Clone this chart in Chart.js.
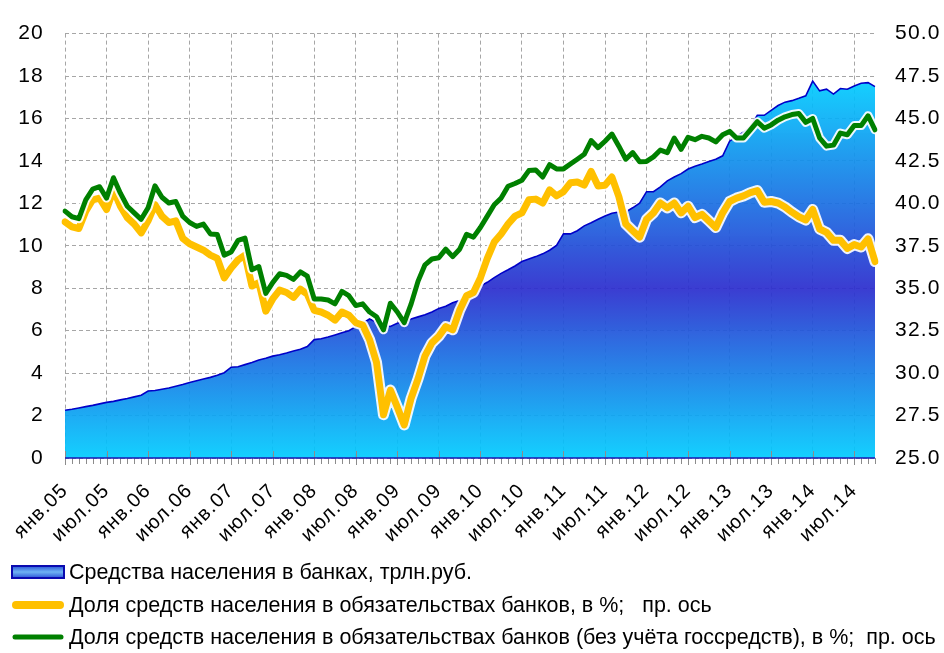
<!DOCTYPE html>
<html lang="ru">
<head>
<meta charset="utf-8">
<script src="https://cdn.jsdelivr.net/npm/chart.js@4.4.1/dist/chart.umd.min.js"></script>
<style>
  html, body { margin: 0; padding: 0; background: #fff; }
  #wrap { width: 944px; height: 653px; position: relative; }
</style>
</head>
<body>
<div id="wrap"><canvas id="c" width="944" height="653"></canvas></div>
<script>
// ---------- DATA ----------
const monthNames = ['янв','фев','мар','апр','май','июн','июл','авг','сен','окт','ноя','дек'];
const startYear = 2005;

// Средства населения в банках, трлн.руб. (left axis), Jan 2005 .. Oct 2014
const deposits = [
  2.25, 2.30, 2.36, 2.42, 2.48, 2.55, 2.62, 2.67, 2.74, 2.80, 2.88, 2.96,
  3.16, 3.18, 3.24, 3.30, 3.38, 3.46, 3.56, 3.64, 3.72, 3.80, 3.90, 4.02,
  4.28, 4.30, 4.40, 4.50, 4.62, 4.70, 4.80, 4.87, 4.95, 5.04, 5.12, 5.25,
  5.58, 5.62, 5.70, 5.80, 5.90, 6.00, 6.19, 6.35, 6.55, 6.40, 6.25, 6.20,
  6.35, 6.42, 6.55, 6.65, 6.75, 6.88, 7.05, 7.15, 7.32, 7.42, 7.52, 7.72,
  8.10, 8.28, 8.50, 8.70, 8.87, 9.05, 9.26, 9.38, 9.49, 9.62, 9.79, 10.02,
  10.56, 10.56, 10.71, 10.94, 11.09, 11.25, 11.40, 11.53, 11.59, 11.60, 11.79, 12.01,
  12.55, 12.55, 12.78, 13.06, 13.24, 13.40, 13.62, 13.75, 13.85, 13.97, 14.08, 14.24,
  14.93, 15.16, 15.35, 15.62, 16.15, 16.15, 16.38, 16.61, 16.77, 16.84, 16.95, 17.07,
  17.76, 17.30, 17.38, 17.15, 17.41, 17.38, 17.53, 17.66, 17.69, 17.50
];

// Доля средств населения в обязательствах банков, % (right axis)
const shareTotal = [
  38.91, 38.62, 38.52, 39.54, 40.21, 40.31, 39.64, 40.79, 39.83, 39.16, 38.78, 38.26,
  38.97, 39.92, 39.25, 38.87, 38.97, 37.95, 37.62, 37.43, 37.24, 36.95, 36.76, 35.61,
  36.19, 36.67, 36.95, 35.13, 35.33, 33.65, 34.37, 34.89, 34.75, 34.46, 34.94, 34.66,
  33.70, 33.60, 33.41, 33.12, 33.60, 33.41, 32.97, 32.83, 31.97, 30.63, 27.55, 29.00,
  28.00, 26.95, 28.52, 29.67, 31.02, 31.78, 32.17, 32.74, 32.55, 33.70, 34.56, 34.75,
  35.61, 36.76, 37.72, 38.20, 38.78, 39.25, 39.44, 40.21, 40.25, 40.02, 40.79, 40.44,
  40.69, 41.21, 41.26, 41.07, 41.88, 41.02, 41.07, 41.55, 40.40, 38.78, 38.39, 38.01,
  39.06, 39.44, 40.02, 39.73, 40.02, 39.44, 39.83, 39.16, 39.35, 38.97, 38.58, 39.44,
  40.11, 40.31, 40.44, 40.63, 40.75, 40.06, 40.11, 40.02, 39.79, 39.48, 39.21, 39.02,
  39.64, 38.49, 38.29, 37.82, 37.82, 37.34, 37.57, 37.43, 37.91, 36.57
];

// Доля средств населения в обязательствах банков (без учёта госсредств), % (right axis)
const shareExGov = [
  39.54, 39.21, 39.10, 40.21, 40.84, 40.98, 40.31, 41.51, 40.60, 39.83, 39.44, 39.06,
  39.74, 41.03, 40.36, 40.02, 40.11, 39.25, 38.87, 38.64, 38.78, 38.20, 38.16, 36.95,
  37.14, 37.82, 37.95, 36.09, 36.28, 34.70, 35.33, 35.85, 35.76, 35.52, 35.96, 35.71,
  34.37, 34.37, 34.31, 34.08, 34.81, 34.56, 33.98, 34.08, 33.60, 33.32, 32.55, 34.12,
  33.60, 32.97, 34.08, 35.42, 36.38, 36.72, 36.80, 37.30, 36.86, 37.30, 38.17, 38.01,
  38.58, 39.25, 39.92, 40.31, 41.01, 41.17, 41.36, 41.93, 41.97, 41.55, 42.28, 42.03,
  42.03, 42.32, 42.60, 42.89, 43.70, 43.28, 43.66, 44.08, 43.37, 42.60, 42.99, 42.45,
  42.47, 42.74, 43.14, 42.99, 43.85, 43.18, 43.89, 43.75, 43.95, 43.85, 43.62, 44.04,
  44.24, 43.85, 43.85, 44.33, 44.81, 44.43, 44.62, 44.90, 45.10, 45.23, 45.29, 44.77,
  45.00, 43.85, 43.37, 43.43, 44.14, 44.04, 44.58, 44.58, 45.16, 44.33
];

const seriesNames = [
  'Средства населения в банках, трлн.руб.',
  'Доля средств населения в обязательствах банков, в %;   пр. ось',
  'Доля средств населения в обязательствах банков (без учёта госсредств), в %;  пр. ось'
];

// category labels: месяц.год
const categories = deposits.map((_, i) =>
  monthNames[i % 12] + '.' + String((startYear + Math.floor(i / 12)) % 100).padStart(2, '0'));

// ---------- STYLE ----------
const FONT = "'Liberation Sans', Arial, sans-serif";
const YELLOW = '#FFC000';
const GREEN = '#008000';

function areaGradient(context) {
  const chart = context.chart;
  const { chartArea, scales } = chart;
  if (!chartArea) return 'rgba(0,204,255,0.9)';
  const ys = scales.y;
  const top = ys.getPixelForValue(Math.max(...deposits));
  const bottom = ys.getPixelForValue(0);
  const mid = ys.getPixelForValue(8);
  const g = chart.ctx.createLinearGradient(0, top, 0, bottom);
  g.addColorStop(0, 'rgba(0,204,255,0.92)');
  g.addColorStop(Math.min(Math.max((mid - top) / (bottom - top), 0), 1), 'rgba(44,46,206,0.93)');
  g.addColorStop(1, 'rgba(0,204,255,0.92)');
  return g;
}

const spacingPlugin = {
  id: 'spacing',
  beforeUpdate(chart) { chart.ctx.letterSpacing = '1.2px'; },
  beforeDraw(chart) { chart.ctx.letterSpacing = '1.2px'; }
};

const ticksPlugin = {
  id: 'monthTicks',
  afterDatasetsDraw(chart) {
    const ctx = chart.ctx;
    const xs = chart.scales.x, ys = chart.scales.y;
    const y0 = ys.getPixelForValue(0);
    ctx.save();
    ctx.strokeStyle = '#8c8c8c';
    ctx.lineWidth = 1;
    for (let i = 0; i < categories.length; i++) {
      const x = Math.round(xs.getPixelForValue(i)) + 0.5;
      ctx.beginPath();
      if (i % 6 === 0) { ctx.moveTo(x, y0 - 7); ctx.lineTo(x, y0 + 7); }
      else { ctx.moveTo(x, y0); ctx.lineTo(x, y0 + 6); }
      ctx.stroke();
    }
    ctx.strokeStyle = '#1a1ab4';
    ctx.lineWidth = 1.5;
    ctx.beginPath();
    ctx.moveTo(xs.left, y0);
    ctx.lineTo(xs.right, y0);
    ctx.stroke();
    ctx.restore();
  }
};

const legendPlugin = {
  id: 'customLegend',
  afterDraw(chart) {
    const ctx = chart.ctx;
    const rows = [572, 605, 637];
    ctx.save();
    ctx.letterSpacing = '0px';
    // swatch 1: gradient box
    const bx = 12, bw = 52, bh = 12;
    const g = ctx.createLinearGradient(0, rows[0] - bh / 2, 0, rows[0] + bh / 2);
    g.addColorStop(0, '#2a55d8');
    g.addColorStop(0.5, '#6fb4f4');
    g.addColorStop(1, '#2a55d8');
    ctx.fillStyle = g;
    ctx.fillRect(bx, rows[0] - bh / 2, bw, bh);
    ctx.strokeStyle = '#0a0ab0';
    ctx.lineWidth = 2;
    ctx.strokeRect(bx, rows[0] - bh / 2, bw, bh);
    // swatch 2: yellow line
    ctx.lineCap = 'round';
    ctx.strokeStyle = YELLOW; ctx.lineWidth = 8;
    ctx.beginPath(); ctx.moveTo(bx + 4, rows[1]); ctx.lineTo(bx + bw - 4, rows[1]); ctx.stroke();
    // swatch 3: green line
    ctx.strokeStyle = GREEN; ctx.lineWidth = 5;
    ctx.beginPath(); ctx.moveTo(bx + 3, rows[2]); ctx.lineTo(bx + bw - 3, rows[2]); ctx.stroke();
    // texts
    ctx.fillStyle = '#000';
    ctx.font = '21.5px ' + FONT;
    ctx.textBaseline = 'middle';
    ctx.textAlign = 'left';
    seriesNames.forEach((t, k) => ctx.fillText(t, 69, rows[k] + 1));
    ctx.restore();
  }
};

const chart = new Chart(document.getElementById('c'), {
  type: 'line',
  data: {
    labels: categories,
    datasets: [
      { label: seriesNames[0], data: deposits, yAxisID: 'y', fill: 'origin',
        backgroundColor: areaGradient, borderColor: '#0000c8', borderWidth: 1.6,
        pointRadius: 0, tension: 0, order: 4 },
      { label: '', data: shareTotal, yAxisID: 'y2', fill: false,
        borderColor: 'rgba(255,255,255,0.92)', borderWidth: 11, borderJoinStyle: 'round',
        borderCapStyle: 'round', pointRadius: 0, tension: 0, order: 3 },
      { label: seriesNames[1], data: shareTotal, yAxisID: 'y2', fill: false,
        borderColor: YELLOW, borderWidth: 7, borderJoinStyle: 'round',
        borderCapStyle: 'round', pointRadius: 0, tension: 0, order: 2 },
      { label: '', data: shareExGov, yAxisID: 'y2', fill: false,
        borderColor: 'rgba(255,255,255,0.92)', borderWidth: 9, borderJoinStyle: 'round',
        borderCapStyle: 'round', pointRadius: 0, tension: 0, order: 1 },
      { label: seriesNames[2], data: shareExGov, yAxisID: 'y2', fill: false,
        borderColor: GREEN, borderWidth: 5, borderJoinStyle: 'round',
        borderCapStyle: 'round', pointRadius: 0, tension: 0, order: 0 }
    ]
  },
  options: {
    responsive: false,
    animation: false,
    devicePixelRatio: 1,
    layout: { padding: { top: 23, bottom: 90, left: 0, right: 0 } },
    plugins: { legend: { display: false }, tooltip: { enabled: false } },
    scales: {
      x: {
        type: 'category',
        offset: false,
        grid: {
          color: (c) => (c.index % 6 === 0 ? '#a6a6a6' : 'rgba(0,0,0,0)'),
          lineWidth: 1,
          drawTicks: false
        },
        border: { display: false, dash: [4, 3] },
        ticks: {
          autoSkip: false, maxRotation: 45, minRotation: 45, padding: 21,
          color: '#000', font: { family: FONT, size: 20 },
          callback: (v, i) => (i % 6 === 0 ? categories[i] : '')
        },
        afterFit: (s) => { s.height = 105; s.paddingLeft = 0; s.paddingRight = 0; }
      },
      y: {
        position: 'left', min: 0, max: 20,
        grid: { color: '#a6a6a6', lineWidth: 1, drawTicks: false },
        border: { display: false, dash: [4, 3] },
        ticks: { stepSize: 2, padding: 21, color: '#000', font: { family: FONT, size: 21 } },
        afterFit: (s) => { s.width = 65; }
      },
      y2: {
        position: 'right', min: 25, max: 50,
        grid: { drawOnChartArea: false, drawTicks: false },
        border: { display: false },
        ticks: { stepSize: 2.5, padding: 20, color: '#000', font: { family: FONT, size: 21 },
                 callback: (v) => Number(v).toFixed(1) },
        afterFit: (s) => { s.width = 69; }
      }
    }
  },
  plugins: [spacingPlugin, ticksPlugin, legendPlugin]
});
</script>
</body>
</html>
